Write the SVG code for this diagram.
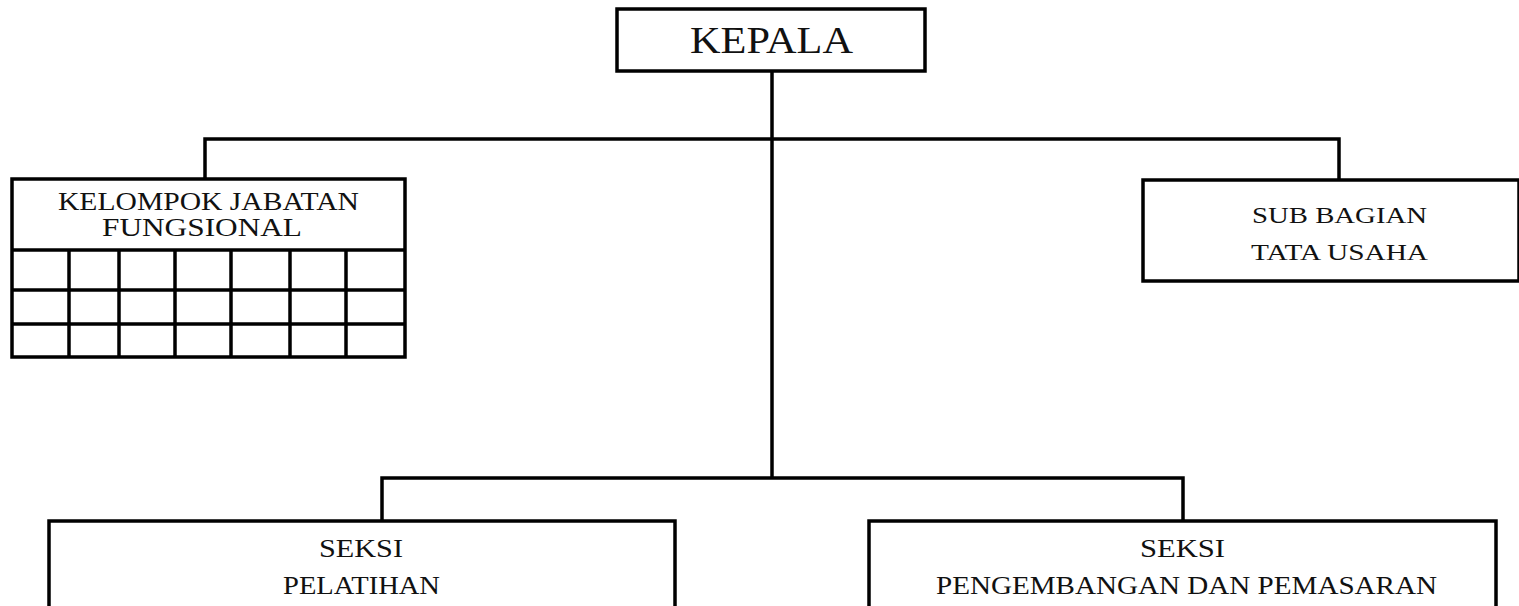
<svg xmlns="http://www.w3.org/2000/svg" width="1519" height="606" viewBox="0 0 1519 606">
<style>
.box{fill:#fff;stroke:#000;stroke-width:3.5}
.ln{fill:none;stroke:#000;stroke-width:3.5}
.gl{fill:none;stroke:#000;stroke-width:3.5}
text{font-family:"Liberation Serif","Times New Roman",serif;fill:#111}
.t25{font-size:25px}
.t22{font-size:22.5px}
.t37{font-size:37px}
</style>
<rect width="1519" height="606" fill="#fff"/>
<g id="connectors">
<line class="ln" x1="772" y1="71" x2="772" y2="478"/>
<polyline class="ln" points="205,179 205,139 1339,139 1339,180"/>
<polyline class="ln" points="382,521 382,478 1183,478 1183,521"/>
</g>
<g id="kepala">
<rect class="box" x="617" y="9" width="308" height="62"/>
<text class="t37" x="690" y="53" textLength="163" lengthAdjust="spacingAndGlyphs">KEPALA</text>
</g>
<g id="kelompok">
<rect class="box" x="12" y="179" width="393" height="178"/>
<line class="gl" x1="12" y1="250" x2="405" y2="250"/>
<line class="gl" x1="12" y1="290" x2="405" y2="290"/>
<line class="gl" x1="12" y1="324" x2="405" y2="324"/>
<line class="gl" x1="69" y1="250" x2="69" y2="357"/>
<line class="gl" x1="119" y1="250" x2="119" y2="357"/>
<line class="gl" x1="175" y1="250" x2="175" y2="357"/>
<line class="gl" x1="231" y1="250" x2="231" y2="357"/>
<line class="gl" x1="290" y1="250" x2="290" y2="357"/>
<line class="gl" x1="346" y1="250" x2="346" y2="357"/>
<text class="t25" x="58" y="210" textLength="301" lengthAdjust="spacingAndGlyphs">KELOMPOK JABATAN</text>
<text class="t25" x="102" y="236" textLength="200" lengthAdjust="spacingAndGlyphs">FUNGSIONAL</text>
</g>
<g id="subbagian">
<rect class="box" x="1143" y="180" width="376" height="101"/>
<text class="t22" x="1252" y="223" textLength="175" lengthAdjust="spacingAndGlyphs">SUB BAGIAN</text>
<text class="t22" x="1251" y="260" textLength="177" lengthAdjust="spacingAndGlyphs">TATA USAHA</text>
</g>
<g id="pelatihan">
<rect class="box" x="49" y="521" width="626" height="110"/>
<text class="t25" x="319" y="557" textLength="84" lengthAdjust="spacingAndGlyphs">SEKSI</text>
<text class="t25" x="283" y="594" textLength="157" lengthAdjust="spacingAndGlyphs">PELATIHAN</text>
</g>
<g id="pengembangan">
<rect class="box" x="869" y="521" width="627" height="110"/>
<text class="t25" x="1140" y="557" textLength="85" lengthAdjust="spacingAndGlyphs">SEKSI</text>
<text class="t25" x="936" y="594" textLength="501" lengthAdjust="spacingAndGlyphs">PENGEMBANGAN DAN PEMASARAN</text>
</g>
</svg>
